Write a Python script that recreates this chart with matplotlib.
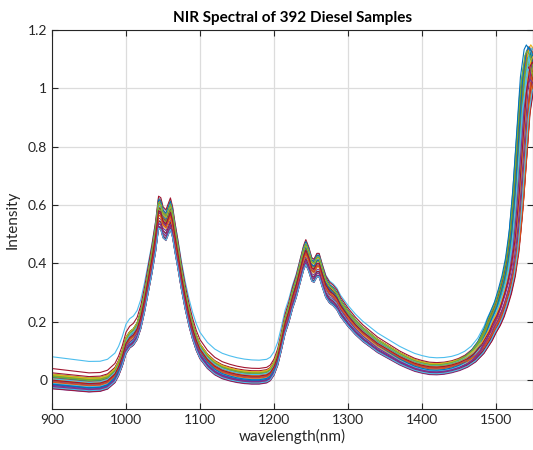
import numpy as np
import matplotlib
matplotlib.use("Agg")
import matplotlib.pyplot as plt

# -------------- Median spectrum -------------------------------------
wl = np.array([
    900, 925, 950, 965, 975, 985, 990, 995, 1000, 1005, 1010, 1015, 1020, 1025,
    1030, 1035, 1040, 1044, 1047, 1050, 1054, 1057, 1060, 1063, 1066, 1070, 1075,
    1080, 1085, 1090, 1095, 1100, 1110, 1120, 1130, 1140, 1150, 1160, 1170, 1180,
    1190, 1195, 1200, 1205, 1210, 1215, 1220, 1225, 1230, 1235, 1240, 1243, 1247,
    1251, 1254, 1258, 1261, 1265, 1270, 1275, 1280, 1285, 1290, 1300, 1310, 1320,
    1330, 1340, 1350, 1360, 1370, 1380, 1390, 1400, 1410, 1420, 1430, 1440, 1450,
    1460, 1470, 1480, 1490, 1495, 1500, 1505, 1510, 1515, 1520, 1525, 1530, 1535,
    1540, 1545, 1548, 1552, 1556, 1560])
base = np.array([
    -0.006, -0.012, -0.018, -0.016, -0.008, 0.015, 0.04, 0.075, 0.12, 0.14, 0.15,
    0.17, 0.21, 0.27, 0.34, 0.41, 0.49, 0.575, 0.57, 0.54, 0.53, 0.55, 0.57, 0.54,
    0.49, 0.43, 0.35, 0.28, 0.22, 0.17, 0.13, 0.10, 0.065, 0.042, 0.028, 0.02,
    0.014, 0.01, 0.008, 0.008, 0.012, 0.02, 0.04, 0.075, 0.13, 0.19, 0.23, 0.28,
    0.32, 0.37, 0.42, 0.44, 0.415, 0.38, 0.375, 0.395, 0.395, 0.36, 0.32, 0.30,
    0.29, 0.275, 0.25, 0.215, 0.185, 0.16, 0.14, 0.12, 0.105, 0.09, 0.075, 0.063,
    0.052, 0.045, 0.04, 0.039, 0.041, 0.046, 0.054, 0.066, 0.085, 0.115, 0.16,
    0.19, 0.215, 0.245, 0.285, 0.33, 0.39, 0.48, 0.62, 0.80, 0.98, 1.07, 1.085,
    1.07, 1.03, 0.97])

# -------------- Per-sample variation ----------------
# baseline at 900 nm, peak height factor, baseline change per 500 nm, band-edge shift (nm)
offsets = [
    -0.012, 0.006, 0.015, -0.020, 0.022, 0.085, 0.045,
    0.002, -0.018, 0.010, -0.008, 0.026, -0.015, -0.022,
    0.008, 0.012, 0.018, -0.025, 0.020, 0.004, 0.030,
    -0.010, 0.014, -0.005, 0.000, 0.024, -0.006, -0.019,
    0.016, -0.002, 0.007, -0.013, 0.019, 0.010, -0.024,
    -0.008, 0.003, 0.024, -0.017, 0.017, -0.021, 0.005,
]
scales = [
    0.97, 1.02, 1.04, 0.95, 1.03, 0.96, 1.03,
    1.00, 0.96, 1.05, 0.98, 1.01, 0.97, 0.94,
    1.02, 1.06, 0.99, 0.95, 1.00, 1.03, 0.98,
    0.93, 1.04, 0.99, 1.01, 1.02, 0.96, 0.98,
    1.05, 1.00, 0.97, 1.02, 0.99, 1.04, 0.95,
    1.06, 0.98, 1.01, 0.96, 1.03, 0.94, 1.00,
]
tilts = [
    0.0, 0.0, -0.005, 0.005, -0.01, -0.045, -0.025,
    0.0, 0.005, 0.0, 0.0, -0.01, 0.0, 0.005,
    0.0, -0.005, -0.005, 0.005, -0.01, 0.0, -0.012,
    0.0, 0.0, 0.0, 0.0, -0.008, 0.0, 0.005,
    -0.005, 0.0, 0.0, 0.0, -0.006, 0.0, 0.006,
    0.0, 0.0, -0.008, 0.005, -0.005, 0.005, 0.0,
]
shifts = [
    -6, 8, 1, 3, -3, -7, -5,
    -8, 6, -1, 4, -4, 2, 5,
    -2, 7, 0, 5, -5, 1, -6,
    3, -3, 6, 2, -2, -4, 4,
    -7, 5, -1, 3, -5, 0, 6,
    -4, 7, 2, -2, -6, 4, 1,
]

colors = ['#0072BD', '#D95319', '#EDB120', '#7E2F8E', '#77AC30', '#4DBEEE', '#A2142F']

# shift only acts on the steep band edge above 1440 nm
edge = np.clip((wl - 1440) / 60.0, 0, 1)
ramp = (wl - 900) / 500.0

# -------------- Plot ----------------
plt.rcParams['font.family'] = ['Lato', 'DejaVu Sans']
fig = plt.figure(figsize=(5.33, 4.5), dpi=100)
ax = fig.add_axes([0.0976, 0.0911, 0.9024, 0.8422])

for i in range(len(offsets)):
    ax.plot(wl + shifts[i] * edge,
            base * scales[i] + offsets[i] + tilts[i] * ramp,
            color=colors[i % 7], lw=0.8)

ax.set_xlim(900, 1550)
ax.set_ylim(-0.1, 1.2)
ax.set_xticks(np.arange(900, 1501, 100))
ax.set_yticks([0, 0.2, 0.4, 0.6, 0.8, 1.0, 1.2])
ax.set_yticklabels(['0', '0.2', '0.4', '0.6', '0.8', '1', '1.2'])
ax.grid(True, color='#dcdcdc', lw=0.9)
ax.set_axisbelow(True)
ax.tick_params(direction='in', top=True, right=True, length=4, width=0.8,
               labelsize=10, colors='#262626')
for s in ax.spines.values():
    s.set_color('#262626')
    s.set_linewidth(0.8)

ax.set_title('NIR Spectral of 392 Diesel Samples', fontsize=11,
             fontweight='bold', color='black', pad=6)
ax.set_xlabel('wavelength(nm)', fontsize=11, color='#262626', labelpad=2)
ax.set_ylabel('Intensity', fontsize=11, color='#262626', labelpad=6)

fig.savefig('out.png', dpi=100)
